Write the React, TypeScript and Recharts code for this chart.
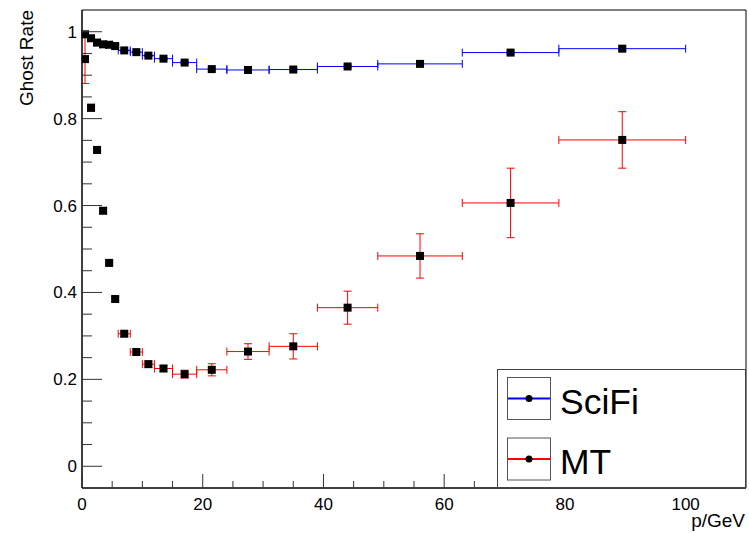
import React from "react";
import {
  ScatterChart,
  Scatter,
  XAxis,
  YAxis,
  ErrorBar,
  ReferenceArea,
  Legend,
} from "recharts";

// bin centres and half widths (p in GeV)
const momentum = [0.5, 1.5, 2.5, 3.5, 4.5, 5.5, 7, 9, 11, 13.5, 17, 21.5, 27.5, 35, 44, 56, 71, 89.5];
const binHalfWidth = [0.5, 0.5, 0.5, 0.5, 0.5, 0.5, 1, 1, 1, 1.5, 2, 2.5, 3.5, 4, 5, 7, 8, 10.5];

const sciFiRate = [0.994, 0.985, 0.975, 0.971, 0.97, 0.967, 0.957, 0.953, 0.945, 0.938, 0.929, 0.914, 0.912, 0.913, 0.92, 0.926, 0.952, 0.961];
const sciFiErr = [0.003, 0.003, 0.003, 0.003, 0.003, 0.003, 0.002, 0.002, 0.002, 0.002, 0.002, 0.002, 0.002, 0.002, 0.003, 0.003, 0.003, 0.004];

const mtRate = [0.937, 0.825, 0.728, 0.588, 0.468, 0.385, 0.305, 0.263, 0.235, 0.225, 0.212, 0.222, 0.264, 0.276, 0.365, 0.484, 0.606, 0.751];
const mtErr = [0.056, 0.008, 0.007, 0.006, 0.005, 0.005, 0.006, 0.006, 0.007, 0.007, 0.009, 0.014, 0.018, 0.029, 0.038, 0.051, 0.08, 0.065];

const seriesNames = ["SciFi", "MT"];
const seriesColors = ["#0000ff", "#ff0000"];

const xTicks = [0, 5, 10, 15, 20, 25, 30, 35, 40, 45, 50, 55, 60, 65, 70, 75, 80, 85, 90, 95, 100, 105];
const xMajor = [0, 20, 40, 60, 80, 100];
const xTickLabels = ["0", "20", "40", "60", "80", "100"];

const yTicks = [0, 0.05, 0.1, 0.15, 0.2, 0.25, 0.3, 0.35, 0.4, 0.45, 0.5, 0.55, 0.6, 0.65, 0.7, 0.75, 0.8, 0.85, 0.9, 0.95, 1];
const yMajor = [0, 0.2, 0.4, 0.6, 0.8, 1];
const yTickLabels = ["0", "0.2", "0.4", "0.6", "0.8", "1"];

const FONT = "'Liberation Sans', Arial, Helvetica, sans-serif";

const sciFiData = momentum.map((p, i) => ({ p, rate: sciFiRate[i], ex: binHalfWidth[i], ey: sciFiErr[i] }));
const mtData = momentum.map((p, i) => ({ p, rate: mtRate[i], ex: binHalfWidth[i], ey: mtErr[i] }));

function majorIndex(list: number[], v: number) {
  return list.findIndex((m) => Math.abs(m - v) < 1e-6);
}

// ROOT style ticks: drawn inside the frame
function YTick(props: any) {
  const { x, y, payload } = props;
  const idx = majorIndex(yMajor, payload.value);
  const len = idx >= 0 ? 20 : 10;
  return (
    <g>
      <line x1={x} x2={x + len} y1={y} y2={y} stroke="#333" strokeWidth={1} />
      {idx >= 0 && (
        <text x={x - 5} y={y} dy={6} textAnchor="end" fontSize={17} fontFamily={FONT} fill="#000">
          {yTickLabels[idx]}
        </text>
      )}
    </g>
  );
}

function XTick(props: any) {
  const { x, y, payload } = props;
  const idx = majorIndex(xMajor, payload.value);
  const len = idx >= 0 ? 14 : 7;
  return (
    <g>
      <line x1={x} x2={x} y1={y} y2={y - len} stroke="#333" strokeWidth={1} />
      {idx >= 0 && (
        <text x={x} y={y} dy={21.5} textAnchor="middle" fontSize={17} fontFamily={FONT} fill="#000">
          {xTickLabels[idx]}
        </text>
      )}
    </g>
  );
}

function YTitle(props: any) {
  const { viewBox } = props;
  const x = viewBox.x + 33;
  const y = viewBox.y;
  return (
    <text x={x} y={y} textAnchor="end" transform={`rotate(-90, ${x}, ${y})`} fontSize={19} fontFamily={FONT} fill="#000">
      Ghost Rate
    </text>
  );
}

function XTitle(props: any) {
  const { viewBox } = props;
  return (
    <text x={viewBox.x + viewBox.width - 1} y={viewBox.y + 39} textAnchor="end" fontSize={19} fontFamily={FONT} fill="#000">
      p/GeV
    </text>
  );
}

function Square(props: any) {
  const { cx, cy } = props;
  return <rect x={cx - 4} y={cy - 4} width={8} height={8} fill="#000" />;
}

function LegendBox(props: any) {
  const payload = props.payload || [];
  const shown = seriesNames.filter((n) => payload.some((e: any) => e.value === n));
  return (
    <svg width={249} height={119} style={{ display: "block" }}>
      <rect x={0.5} y={0.5} width={248} height={118} fill="#fff" stroke="#444" strokeWidth={1} />
      {shown.map((name, i) => {
        const top = 8 + i * 60.5;
        const color = seriesColors[seriesNames.indexOf(name)];
        return (
          <g key={name}>
            <rect x={10.5} y={top + 0.5} width={43} height={42} fill="#fff" stroke="#555" strokeWidth={1} />
            <line x1={11} x2={53} y1={top + 21.5} y2={top + 21.5} stroke={color} strokeWidth={2} />
            <circle cx={32} cy={top + 21.5} r={3.5} fill="#000" />
            <text x={63} y={top + 36.5} fontSize={35.5} fontFamily={FONT} fill="#000">
              {name}
            </text>
          </g>
        );
      })}
    </svg>
  );
}

export default function App() {
  return (
    <div style={{ position: "absolute", left: 0, top: 0, width: 749, height: 533, background: "#fff" }}>
      <ScatterChart width={749} height={533} margin={{ top: 10, right: 3, bottom: 0, left: 0 }}>
        <XAxis
          type="number"
          dataKey="p"
          domain={[0, 110]}
          ticks={xTicks}
          interval={0}
          allowDataOverflow
          height={45}
          tickSize={0}
          tickMargin={0}
          tickLine={false}
          tick={XTick}
          axisLine={{ stroke: "#000" }}
          label={XTitle}
        />
        <YAxis
          type="number"
          dataKey="rate"
          domain={[-0.05, 1.05]}
          ticks={yTicks}
          interval={0}
          allowDataOverflow
          width={82}
          tickSize={0}
          tickMargin={0}
          tickLine={false}
          tick={YTick}
          axisLine={{ stroke: "#000" }}
          label={YTitle}
        />
        <ReferenceArea x1={0} x2={110} y1={-0.05} y2={1.05} fill="none" stroke="#000" strokeWidth={1} />
        <Scatter name={seriesNames[0]} data={sciFiData} fill="#000" shape={Square} isAnimationActive={false}>
          <ErrorBar dataKey="ex" direction="x" width={4} stroke={seriesColors[0]} strokeWidth={1} />
          <ErrorBar dataKey="ey" direction="y" width={4} stroke={seriesColors[0]} strokeWidth={1} />
        </Scatter>
        <Scatter name={seriesNames[1]} data={mtData} fill="#000" shape={Square} isAnimationActive={false}>
          <ErrorBar dataKey="ex" direction="x" width={4} stroke={seriesColors[1]} strokeWidth={1} />
          <ErrorBar dataKey="ey" direction="y" width={4} stroke={seriesColors[1]} strokeWidth={1} />
        </Scatter>
        <Legend
          layout="vertical"
          align="center"
          verticalAlign="middle"
          content={LegendBox}
          wrapperStyle={{ position: "absolute", left: 497, top: 369, width: 249, height: 119 }}
        />
      </ScatterChart>
    </div>
  );
}
